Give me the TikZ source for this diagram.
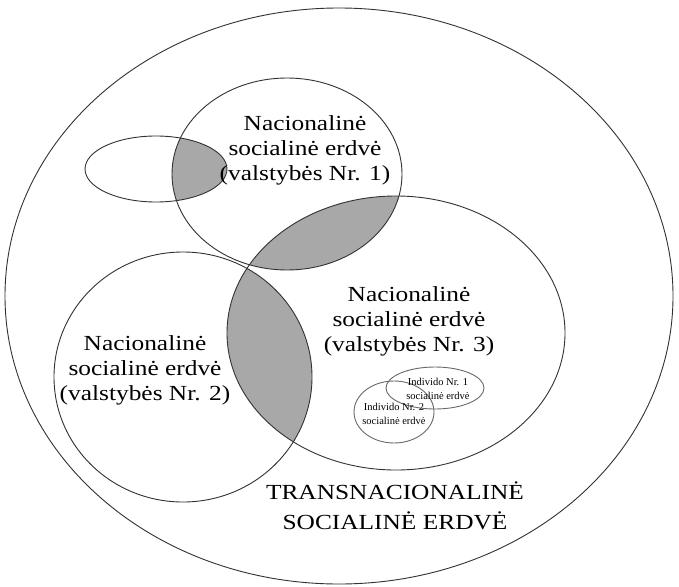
\documentclass[tikz,border=0pt]{standalone}
\usepackage{fontspec}
\setmainfont{Liberation Serif}
\usepackage{graphicx}
\definecolor{lensgray}{RGB}{168,168,168}
\definecolor{linedark}{RGB}{50,50,50}
\definecolor{linelight}{RGB}{105,105,105}
\newcommand{\bigtxt}[1]{\scalebox{1.18}[1]{#1}}
\tikzset{
  outline/.style={draw=linedark, line width=0.9pt},
  smalloutline/.style={draw=linelight, line width=0.9pt},
  bigtext/.style={align=center, inner sep=0pt, font=\fontsize{21.5}{25}\selectfont},
  smalltext/.style={align=center, inner sep=0pt, font=\fontsize{10.5}{13.5}\selectfont},
}
\begin{document}
\begin{tikzpicture}[x=1pt,y=-1pt]
\fill[white] (0,0) rectangle (679,586);
\useasboundingbox (0,0) rectangle (679,586);
% shaded intersections
\begin{scope}
  \clip (287,174) ellipse [x radius=115, y radius=96];
  \fill[lensgray] (396,333) ellipse [x radius=169, y radius=137];
  \fill[lensgray] (156,169) ellipse [x radius=71, y radius=33];
\end{scope}
\begin{scope}
  \clip (183,377) ellipse [x radius=129, y radius=125];
  \fill[lensgray] (396,333) ellipse [x radius=169, y radius=137];
\end{scope}
% outlines
\draw[outline] (339,296) ellipse [x radius=334, y radius=288];
\draw[outline] (287,174) ellipse [x radius=115, y radius=96];
\draw[outline] (156,169) ellipse [x radius=71, y radius=33];
\draw[outline] (183,377) ellipse [x radius=129, y radius=125];
\draw[outline] (396,333) ellipse [x radius=169, y radius=137];
\draw[smalloutline] (435,388) ellipse [x radius=49, y radius=21];
\draw[smalloutline] (394,412) ellipse [x radius=40, y radius=31];
% texts
\node[bigtext] (s1) at (305,150.5) {\bigtxt{Nacionalinė}\\\bigtxt{socialinė erdvė}\\\bigtxt{(valstybės Nr. 1)}};
\node[bigtext] (s2) at (145,370) {\bigtxt{Nacionalinė}\\\bigtxt{socialinė erdvė}\\\bigtxt{(valstybės Nr. 2)}};
\node[bigtext] (s3) at (409,321.5) {\bigtxt{Nacionalinė}\\\bigtxt{socialinė erdvė}\\\bigtxt{(valstybės Nr. 3)}};
\node[bigtext, font=\fontsize{21.5}{30}\selectfont] (trans) at (395,506) {\bigtxt{TRANSNACIONALINĖ}\\\bigtxt{SOCIALINĖ ERDVĖ}};
\node[smalltext] (i1) at (438,389) {Individo Nr. 1\\socialinė erdvė};
\node[smalltext] (i2) at (394,414) {Individo Nr. 2\\socialinė erdvė};
\end{tikzpicture}
\end{document}
